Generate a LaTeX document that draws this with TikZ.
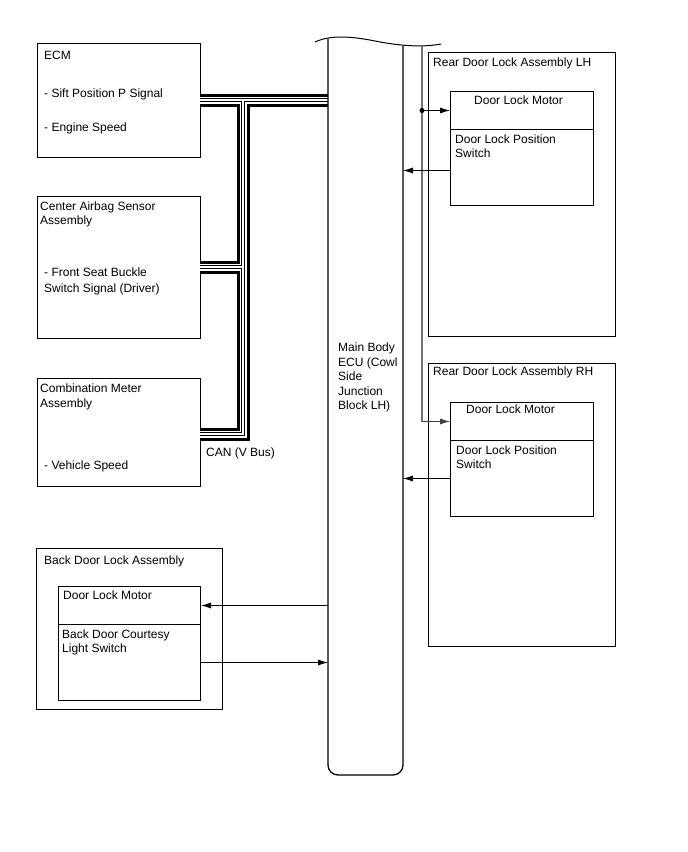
\documentclass[tikz,border=0pt]{standalone}
\usepackage{fontspec}
\setmainfont{Liberation Sans}
\usetikzlibrary{arrows.meta}
\begin{document}
\begin{tikzpicture}[x=1pt,y=-1pt,
  box/.style={draw, line width=1pt, rectangle, inner sep=0pt, anchor=north west},
  txt/.style={anchor=base west, inner sep=0pt, font=\fontsize{12}{14.5}\selectfont},
  arr/.style={line width=0.75pt, -{Latex[length=10pt,width=6pt]}},
  eculine/.style={line width=1.3pt},
  graywire/.style={draw=black!55, line width=1.4pt},
  canA/.style={line width=13pt, black, line join=miter},
  canB/.style={line width=7pt, white, line join=miter},
  canC/.style={line width=3.6pt, black, line join=miter},
  canD/.style={line width=1.6pt, white, line join=miter}]
\useasboundingbox (0,0) rectangle (688,852);

% ---------- left boxes ----------
\node[box, minimum width=163pt, minimum height=114pt] (ecm) at (37,43) {};
\node[box, minimum width=163pt, minimum height=142pt] (cas) at (37,196) {};
\node[box, minimum width=163pt, minimum height=108pt] (cma) at (37,378) {};

\node[txt] (t1) at (44,59) {ECM};
\node[txt] (t2) at (44,97) {- Sift Position P Signal};
\node[txt] (t3) at (44,131) {- Engine Speed};
\node[txt] (t4) at (40,210) {Center Airbag Sensor};
\node[txt] (t5) at (40,224) {Assembly};
\node[txt] (t6) at (44,276) {- Front Seat Buckle};
\node[txt] (t7) at (44,292) {Switch Signal (Driver)};
\node[txt] (t8) at (40,392) {Combination Meter};
\node[txt] (t9) at (40,407) {Assembly};
\node[txt] (t10) at (44,469) {- Vehicle Speed};
\node[txt] (can) at (206,456) {CAN (V Bus)};

% ---------- CAN bus ----------
\def\canpath{(328,100) -- (243,100) -- (243,434) -- (200,434)
  (243,100) -- (200,100) (243,267) -- (200,267)}
\draw[canA] \canpath;
\draw[canB] \canpath;
\draw[canC] \canpath;
\draw[canD] \canpath;

% ---------- Main Body ECU ----------
\node[inner sep=0pt, minimum width=75pt, minimum height=729pt, anchor=north west] (ecu) at (328,46) {};
\coordinate (ecuL) at (328,300);
\coordinate (ecuR) at (403,300);
\draw[eculine, rounded corners=10pt] (328,38.8) -- (328,775) -- (403,775) -- (403,45.6);
\draw[line width=1pt] (315,42) .. controls (330,35) and (350,36) .. (375,41)
  .. controls (395,45) and (420,48) .. (441,44);
\node[txt] (e1) at (338,351) {Main Body};
\node[txt] (e2) at (338,366) {ECU (Cowl};
\node[txt] (e3) at (338,380) {Side};
\node[txt] (e4) at (338,395) {Junction};
\node[txt] (e5) at (338,409) {Block LH)};

% ---------- Rear Door Lock Assembly LH ----------
\node[box, minimum width=187pt, minimum height=284pt] (lh) at (428,52) {};
\node[box, minimum width=143pt, minimum height=38pt] (lhm) at (450,91) {};
\node[box, minimum width=143pt, minimum height=76pt] (lhs) at (450,129) {};
\node[txt] (l1) at (433,66) {Rear Door Lock Assembly LH};
\node[txt] (l2) at (474,104) {Door Lock Motor};
\node[txt] (l3) at (455,143) {Door Lock Position};
\node[txt] (l4) at (455,157) {Switch};

% ---------- Rear Door Lock Assembly RH ----------
\node[box, minimum width=187pt, minimum height=283pt] (rh) at (428,363) {};
\node[box, minimum width=143pt, minimum height=38pt] (rhm) at (450,402) {};
\node[box, minimum width=143pt, minimum height=76pt] (rhs) at (450,440) {};
\node[txt] (r1) at (433,375) {Rear Door Lock Assembly RH};
\node[txt] (r2) at (466,413) {Door Lock Motor};
\node[txt] (r3) at (456,454) {Door Lock Position};
\node[txt] (r4) at (456,468) {Switch};

% ---------- Back Door Lock Assembly ----------
\node[box, minimum width=186pt, minimum height=161pt] (bd) at (36,548) {};
\node[box, minimum width=142pt, minimum height=38pt] (bdm) at (58,586) {};
\node[box, minimum width=142pt, minimum height=76pt] (bds) at (58,624) {};
\node[txt] (b1) at (44,564) {Back Door Lock Assembly};
\node[txt] (b2) at (63,599) {Door Lock Motor};
\node[txt] (b3) at (62,638) {Back Door Courtesy};
\node[txt] (b4) at (62,652) {Light Switch};

% ---------- connectors ----------
\coordinate (gtop) at (422,46);
\coordinate (dot) at (gtop |- lhm.west);
\draw[graywire] (gtop) -- (gtop |- rhm.west);
\draw[arr, black!75] (gtop |- rhm.west) -- (rhm.west);
\fill (dot) circle (2.5pt);
\draw[arr] (dot) -- (lhm.west);
\draw[arr] ([yshift=-3pt]lhs.west) -- ([yshift=-3pt]lhs.west -| ecuR);
\draw[arr] (rhs.west) -- (rhs.west -| ecuR);
\draw[arr] (bdm.east -| ecuL) -- (bdm.east);
\draw[arr] (bds.east) -- (bds.east -| ecuL);
\end{tikzpicture}
\end{document}
